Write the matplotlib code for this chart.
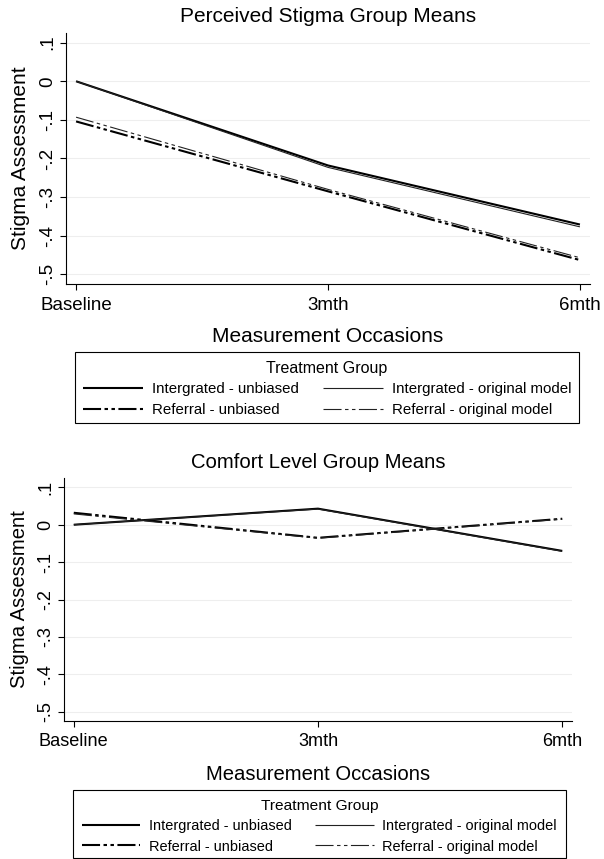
import matplotlib
matplotlib.use("Agg")
import matplotlib.pyplot as plt
from matplotlib.patches import Rectangle

plt.rcParams["font.family"] = ["Liberation Sans", "DejaVu Sans"]
plt.rcParams["lines.scale_dashes"] = False

W, H = 604, 859

occasions = ["Baseline", "3mth", "6mth"]
x_pos = [0, 1, 2]

y_ticks = [0.1, 0.0, -0.1, -0.2, -0.3, -0.4, -0.5]
y_tick_labels = [".1", "0", "-.1", "-.2", "-.3", "-.4", "-.5"]

series_labels = ["Intergrated - unbiased", "Referral - unbiased",
                 "Intergrated - original model", "Referral - original model"]

# Perceived stigma group means
ps_int_unbiased = [0.0, -0.218, -0.371]
ps_ref_unbiased = [-0.104, -0.285, -0.463]
ps_int_original = [0.0, -0.223, -0.377]
ps_ref_original = [-0.093, -0.280, -0.457]

# Comfort level group means
cl_int_unbiased = [0.0, 0.043, -0.070]
cl_ref_unbiased = [0.032, -0.035, 0.016]
cl_int_original = [0.0, 0.042, -0.071]
cl_ref_original = [0.029, -0.036, 0.015]

REF_DASH = (0, (13, 2.5, 2.5, 2.5, 2.5, 2.5))
styles = [
    dict(color="black", lw=1.5, ls="-"),
    dict(color="black", lw=1.5, ls=REF_DASH),
    dict(color="#222222", lw=0.8, ls="-"),
    dict(color="#222222", lw=0.8, ls=REF_DASH),
]


def fx(px):
    return px / W


def fy(py):
    return 1 - py / H


def panel(fig, box, title, title_y, xlab_y, leg_box, ylab_x, data, scale=1.0):
    left, top, right, bottom = box
    ax = fig.add_axes([fx(left), fy(bottom), fx(right - left), fy(top) - fy(bottom)])
    for vals, st, lab in zip(data, styles, series_labels):
        ax.plot(x_pos, vals, label=lab, solid_capstyle="butt", **st)
    ax.set_xlim(-0.04, 2.04)
    ax.set_ylim(-0.525, 0.125)
    ax.set_xticks(x_pos)
    ax.set_xticklabels(occasions, fontsize=13.5 * scale)
    ax.set_yticks(y_ticks)
    ax.set_yticklabels(y_tick_labels, fontsize=13.5 * scale, rotation=90, va="center")
    ax.tick_params(axis="both", length=4, width=0.8, direction="out", pad=3)
    ax.tick_params(axis="x", pad=5)
    for y in y_ticks:
        ax.axhline(y, color="#eeeeee", lw=0.8, zorder=0)
    for s in ["top", "right"]:
        ax.spines[s].set_visible(False)
    for s in ["left", "bottom"]:
        ax.spines[s].set_linewidth(0.8)

    cx = (left + right) / 2
    fig.text(fx(cx), fy(title_y), title, ha="center", va="center", fontsize=15 * scale)
    fig.text(fx(cx), fy(xlab_y), "Measurement Occasions", ha="center", va="center",
             fontsize=15 * scale)
    fig.text(fx(ylab_x), fy((top + bottom) / 2), "Stigma Assessment", rotation=90,
             ha="center", va="center", fontsize=15 * scale)

    # legend box drawn by hand, entries placed inside it
    l0, t0, r0, b0 = leg_box
    fig.patches.append(Rectangle((fx(l0), fy(b0)), fx(r0 - l0), fy(t0) - fy(b0),
                                 transform=fig.transFigure, fill=False,
                                 edgecolor="black", lw=0.8))
    handles, labels = ax.get_legend_handles_labels()
    fig.legend(handles, labels, ncol=2, title="Treatment Group",
               bbox_to_anchor=(fx((l0 + r0) / 2), fy(t0 + 9)),
               loc="upper center", fontsize=10.8 * scale,
               title_fontsize=11.5 * scale, frameon=False,
               handlelength=4.0, handletextpad=0.6,
               borderaxespad=0, borderpad=0, labelspacing=0.43,
               columnspacing=1.6)
    return ax


fig = plt.figure(figsize=(W / 100, H / 100), dpi=100)

panel(fig, (66, 33, 590, 284), "Perceived Stigma Group Means", 17, 337,
      (75, 352, 579, 423), 21,
      [ps_int_unbiased, ps_ref_unbiased, ps_int_original, ps_ref_original])

panel(fig, (64, 478, 572, 721), "Comfort Level Group Means", 462, 774,
      (73, 790, 566, 858), 20,
      [cl_int_unbiased, cl_ref_unbiased, cl_int_original, cl_ref_original], scale=0.97)

fig.savefig("out.png", dpi=100, facecolor="white")
